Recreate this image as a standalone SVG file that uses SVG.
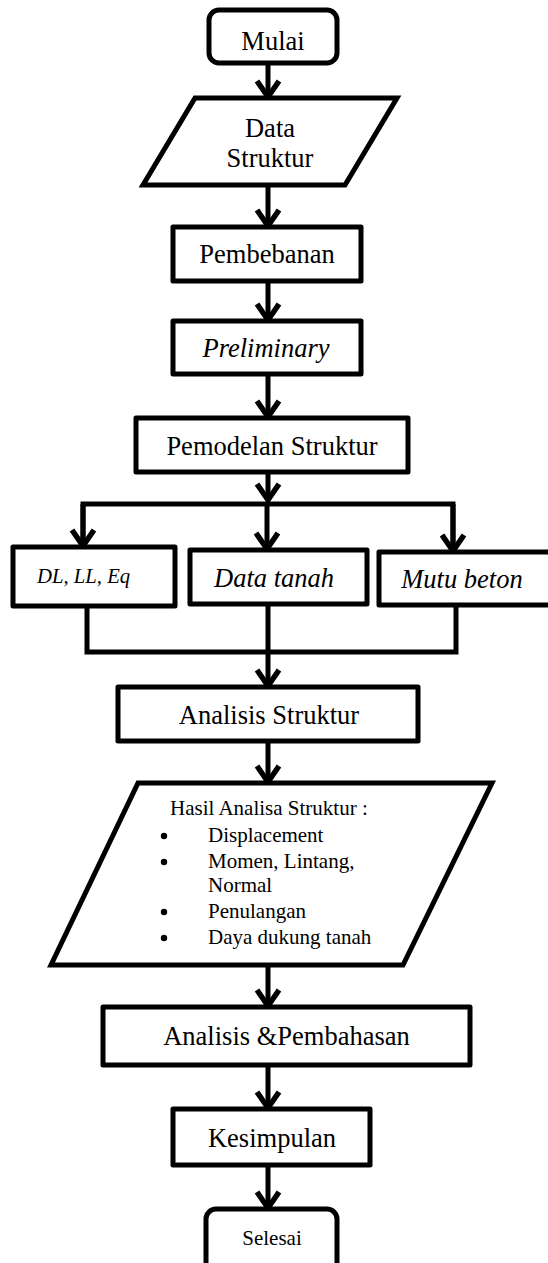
<svg xmlns="http://www.w3.org/2000/svg" width="548" height="1263" viewBox="0 0 548 1263">
<defs>
<style>
.box{fill:#fff;stroke:#000;stroke-width:5;stroke-linejoin:round}
.t{font-family:"Liberation Serif","Times New Roman",serif;font-size:26.5px;fill:#000;text-anchor:middle}
.i{font-style:italic}
.s{font-family:"Liberation Serif","Times New Roman",serif;font-size:21px;fill:#000}
.ln{fill:none;stroke:#000;stroke-width:5;stroke-linejoin:miter}
.ar{fill:none;stroke:#000;stroke-width:5}
</style>
<marker id="ah" markerUnits="userSpaceOnUse" markerWidth="30" markerHeight="34" viewBox="-24 -17 30 34" refX="0" refY="0" orient="auto">
<path d="M-16,-11 L0,0 L-16,11" fill="none" stroke="#000" stroke-width="5.5"/>
</marker>
</defs>
<rect width="548" height="1263" fill="#fff"/>

<g id="connectors">
<line class="ar" x1="268" y1="63" x2="268" y2="97" marker-end="url(#ah)"/>
<line class="ar" x1="268" y1="185" x2="268" y2="226" marker-end="url(#ah)"/>
<line class="ar" x1="268" y1="281" x2="268" y2="320" marker-end="url(#ah)"/>
<line class="ar" x1="268" y1="374" x2="268" y2="417" marker-end="url(#ah)"/>
<line class="ar" x1="268" y1="472" x2="268" y2="500" marker-end="url(#ah)"/>
<polyline class="ln" points="83,547 83,504 453,504 453,550"/>
<line class="ar" x1="83" y1="504" x2="83" y2="546" marker-end="url(#ah)"/>
<line class="ar" x1="267" y1="504" x2="267" y2="549" marker-end="url(#ah)"/>
<line class="ar" x1="453" y1="504" x2="453" y2="551" marker-end="url(#ah)"/>
<polyline class="ln" points="87,606 87,652 456,652 456,605"/>
<line class="ar" x1="268" y1="604" x2="268" y2="686" marker-end="url(#ah)"/>
<line class="ar" x1="268" y1="741" x2="268" y2="782" marker-end="url(#ah)"/>
<line class="ar" x1="268" y1="965" x2="268" y2="1006" marker-end="url(#ah)"/>
<line class="ar" x1="268" y1="1065" x2="268" y2="1108" marker-end="url(#ah)"/>
<line class="ar" x1="268" y1="1165" x2="268" y2="1208" marker-end="url(#ah)"/>
</g>

<g id="mulai">
<rect class="box" x="209" y="10" width="128" height="53" rx="10"/>
<text class="t" x="273" y="50">Mulai</text>
</g>

<g id="data-struktur">
<polygon class="box" points="195,98 397,98 345,185 143,185" style="stroke-linejoin:miter"/>
<text class="t" x="270" y="137">Data</text>
<text class="t" x="270" y="167">Struktur</text>
</g>

<g id="pembebanan">
<rect class="box" x="173" y="227" width="188" height="54"/>
<text class="t" x="267" y="263">Pembebanan</text>
</g>

<g id="preliminary">
<rect class="box" x="173" y="321" width="188" height="53"/>
<text class="t i" x="266" y="357">Preliminary</text>
</g>

<g id="pemodelan">
<rect class="box" x="136" y="418" width="272" height="54"/>
<text class="t" x="272" y="455">Pemodelan Struktur</text>
</g>

<g id="dl-ll-eq">
<rect class="box" x="13" y="547" width="162" height="59"/>
<text class="s i" x="37" y="583" style="font-size:20.7px">DL, LL, Eq</text>
</g>

<g id="data-tanah">
<rect class="box" x="190" y="550" width="177" height="54"/>
<text class="t i" x="274" y="587">Data tanah</text>
</g>

<g id="mutu-beton">
<rect class="box" x="379" y="552" width="190" height="53"/>
<text class="t i" x="462" y="588">Mutu beton</text>
</g>

<g id="analisis-struktur">
<rect class="box" x="118" y="687" width="300" height="54"/>
<text class="t" x="269" y="724">Analisis Struktur</text>
</g>

<g id="hasil">
<polygon class="box" points="138,783 492,783 403,965 51,965" style="stroke-linejoin:miter"/>
<text class="s" x="170" y="815">Hasil Analisa Struktur :</text>
<circle cx="164" cy="836" r="3.2" fill="#000"/>
<circle cx="164" cy="862" r="3.2" fill="#000"/>
<circle cx="164" cy="912" r="3.2" fill="#000"/>
<circle cx="164" cy="938" r="3.2" fill="#000"/>
<text class="s" x="208" y="842">Displacement</text>
<text class="s" x="208" y="868">Momen, Lintang,</text>
<text class="s" x="208" y="892">Normal</text>
<text class="s" x="208" y="918">Penulangan</text>
<text class="s" x="208" y="944">Daya dukung tanah</text>
</g>

<g id="analisis-pembahasan">
<rect class="box" x="103" y="1007" width="367" height="58"/>
<text class="t" x="286.5" y="1045">Analisis &amp;Pembahasan</text>
</g>

<g id="kesimpulan">
<rect class="box" x="173" y="1109" width="197" height="56"/>
<text class="t" x="272" y="1147">Kesimpulan</text>
</g>

<g id="selesai">
<rect class="box" x="206" y="1209" width="131" height="70" rx="10"/>
<text class="s" x="272" y="1245" style="text-anchor:middle">Selesai</text>
</g>
</svg>
